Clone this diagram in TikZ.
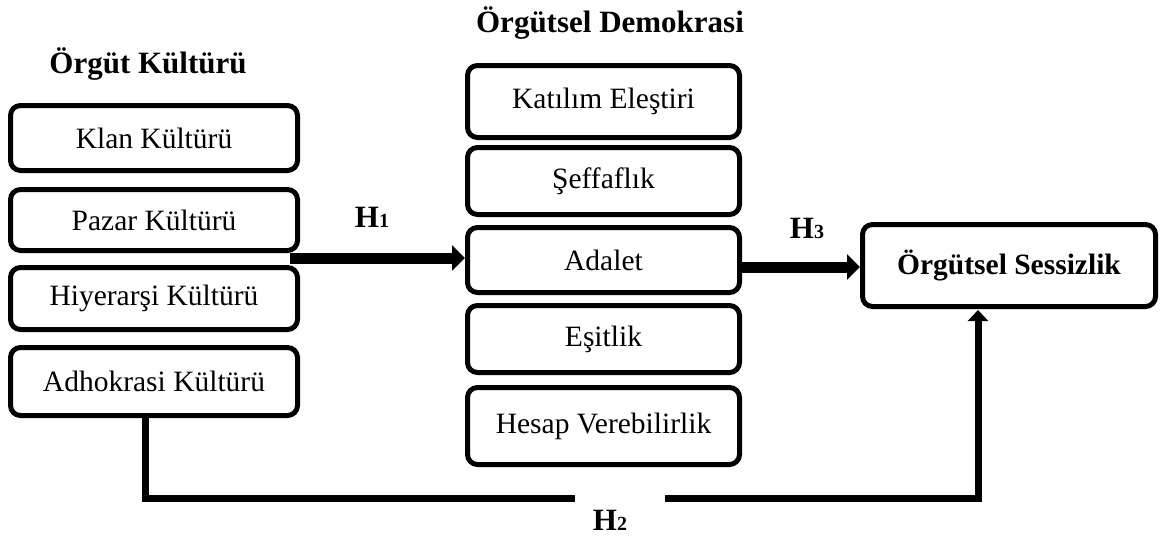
\documentclass[tikz,border=0pt]{standalone}
\usepackage{fontspec}
\setmainfont{Liberation Serif}
\usetikzlibrary{arrows.meta}
\begin{document}
\begin{tikzpicture}[x=1pt,y=-1pt,
  box/.style={draw, line width=5pt, rounded corners=10pt, inner sep=0pt, align=center,
    font=\fontsize{29.5}{32}\selectfont},
  lbox/.style={box, minimum width=287pt},
  mbox/.style={box, minimum width=272pt},
  title/.style={anchor=base, font=\fontsize{31}{34}\selectfont\bfseries, inner sep=0pt},
  hlab/.style={anchor=base, font=\fontsize{31}{34}\selectfont\bfseries, inner sep=0pt},
  bigarrow/.style={line width=11pt, -{Triangle[length=13pt,width=25pt]}},
  thinline/.style={line width=7pt}
]
\useasboundingbox (0,0) rectangle (1161,538);

\node[title] (t1) at (148,73) {Örgüt Kültürü};
\node[title] (t2) at (610,32) {Örgütsel Demokrasi};

\node[lbox, minimum height=65pt] (klan) at (154,138) {Klan Kültürü};
\node[lbox, minimum height=61pt] (pazar) at (154,220) {Pazar Kültürü};
\node[lbox, minimum height=62pt] (hiy) at (154,298.5) {Hiyerarşi Kültürü};
\node[lbox, minimum height=68pt] (adh) at (154,381.5) {Adhokrasi Kültürü};

\node[mbox, minimum height=72pt] (kat) at (603.5,101.5) {Katılım Eleştiri};
\node[mbox, minimum height=67pt] (sef) at (603.5,181) {Şeffaflık};
\node[mbox, minimum height=65pt] (ada) at (603.5,260) {Adalet};
\node[mbox, minimum height=67pt] (esi) at (603.5,339) {Eşitlik};
\node[mbox, minimum height=77pt] (hes) at (603.5,426) {Hesap Verebilirlik};

\node[box, minimum width=293pt, minimum height=82pt, font=\fontsize{29.5}{32}\selectfont\bfseries] (ses) at (1009,265.5) {Örgütsel Sessizlik};

\node[hlab] (h1) at (372,227) {H{\fontsize{20}{22}\selectfont 1}};
\node[hlab] (h3) at (807,238) {H{\fontsize{20}{22}\selectfont 3}};
\node[hlab] (h2) at (610,530) {H{\fontsize{20}{22}\selectfont 2}};

\coordinate (a1) at (290,258);
\draw[bigarrow] (a1) -- (a1 -| ada.west);
\coordinate (a3) at (740,267);
\draw[bigarrow] (a3) -- (a3 -| ses.west);

\coordinate (p0) at (145,418);
\coordinate (p1) at (145,498);
\coordinate (g1) at (575,498);
\coordinate (g2) at (665,498);
\coordinate (p2) at (978,498);
\coordinate (p3) at (978,310);
\draw[thinline] (p0) -- (p1) -- (g1);
\draw[thinline, -{Triangle[length=11pt,width=20pt]}] (g2) -- (p2) -- (p3);
\end{tikzpicture}
\end{document}
